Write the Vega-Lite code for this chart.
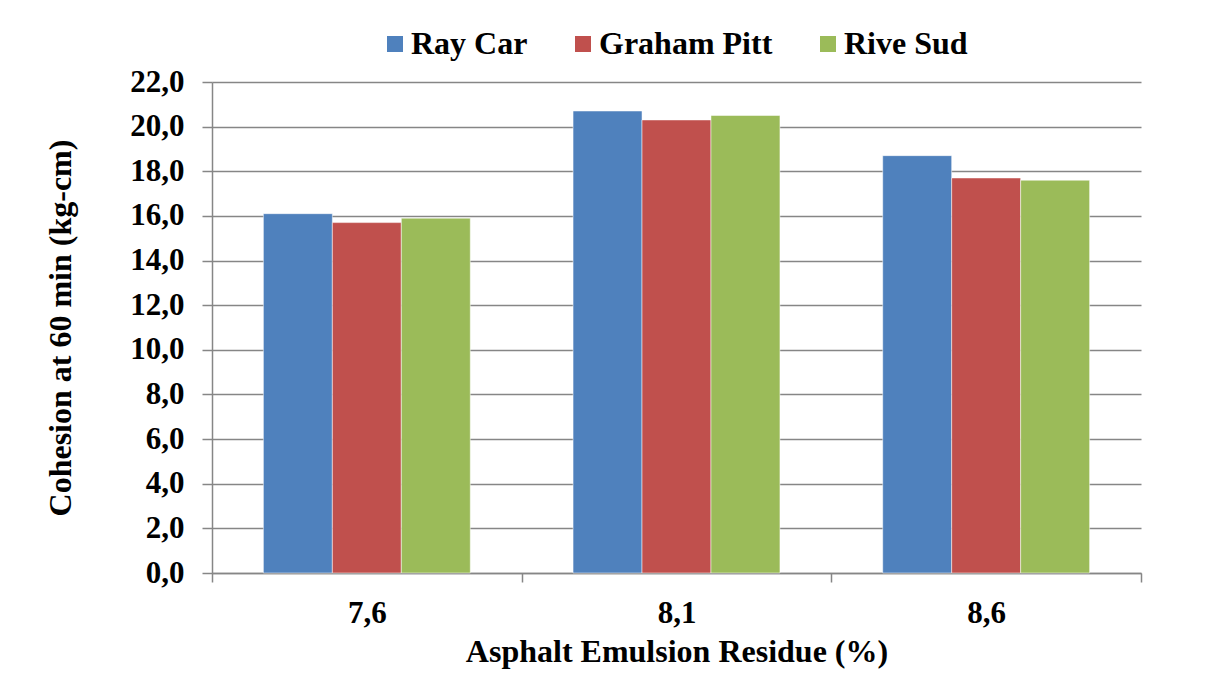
{
  "$schema": "https://vega.github.io/schema/vega-lite/v6.json",
  "width": 929,
  "height": 491,
  "autosize": {"type": "none"},
  "padding": {"left": 212, "top": 82, "right": 82, "bottom": 108},
  "background": "white",
  "data": {
    "values": [
      {"residue": "7,6", "series": "Ray Car", "cohesion": 16.1},
      {"residue": "7,6", "series": "Graham Pitt", "cohesion": 15.7},
      {"residue": "7,6", "series": "Rive Sud", "cohesion": 15.9},
      {"residue": "8,1", "series": "Ray Car", "cohesion": 20.7},
      {"residue": "8,1", "series": "Graham Pitt", "cohesion": 20.3},
      {"residue": "8,1", "series": "Rive Sud", "cohesion": 20.5},
      {"residue": "8,6", "series": "Ray Car", "cohesion": 18.7},
      {"residue": "8,6", "series": "Graham Pitt", "cohesion": 17.7},
      {"residue": "8,6", "series": "Rive Sud", "cohesion": 17.6}
    ]
  },
  "mark": {"type": "bar", "stroke": "#ffffff", "strokeOpacity": 0.5, "strokeWidth": 1},
  "encoding": {
    "x": {
      "field": "residue",
      "type": "nominal",
      "sort": ["7,6", "8,1", "8,6"],
      "scale": {"paddingInner": 0, "paddingOuter": 0},
      "axis": {
        "title": "Asphalt Emulsion Residue (%)",
        "labelAngle": 0,
        "tickBand": "extent",
        "tickSize": 9,
        "labelPadding": 16,
        "titlePadding": 8,
        "domainColor": "#868686",
        "tickColor": "#868686",
        "domainWidth": 1.5,
        "tickWidth": 1.5
      }
    },
    "xOffset": {
      "field": "series",
      "type": "nominal",
      "sort": ["Ray Car", "Graham Pitt", "Rive Sud"],
      "scale": {"paddingInner": 0, "paddingOuter": 0.745}
    },
    "y": {
      "field": "cohesion",
      "type": "quantitative",
      "scale": {"domain": [0, 22], "nice": false},
      "axis": {
        "title": "Cohesion at 60 min (kg-cm)",
        "values": [0, 2, 4, 6, 8, 10, 12, 14, 16, 18, 20, 22],
        "labelExpr": "replace(format(datum.value, '.1f'), '.', ',')",
        "tickSize": 10,
        "labelPadding": 18,
        "titlePadding": 52,
        "grid": true,
        "gridColor": "#868686",
        "gridWidth": 1.3,
        "domainColor": "#868686",
        "tickColor": "#868686",
        "domainWidth": 1.5,
        "tickWidth": 1.5
      }
    },
    "color": {
      "field": "series",
      "type": "nominal",
      "scale": {
        "domain": ["Ray Car", "Graham Pitt", "Rive Sud"],
        "range": ["#4F81BD", "#C0504D", "#9BBB59"]
      },
      "legend": {
        "title": null,
        "orient": "none",
        "direction": "horizontal",
        "legendX": 167,
        "legendY": -54,
        "symbolType": "square",
        "symbolSize": 256,
        "symbolStrokeWidth": 0,
        "labelOffset": 0,
        "labelLimit": 400,
        "columnPadding": 39,
        "labelFontSize": 32,
        "labelFont": "Liberation Serif",
        "labelFontWeight": "bold",
        "labelColor": "#000000"
      }
    }
  },
  "config": {
    "font": "Liberation Serif",
    "view": {"stroke": null},
    "legend": {
      "labelFont": "Liberation Serif",
      "labelFontWeight": "bold",
      "labelFontSize": 32
    },
    "axis": {
      "labelFont": "Liberation Serif",
      "labelFontSize": 31,
      "labelFontWeight": "bold",
      "labelColor": "#000000",
      "titleFont": "Liberation Serif",
      "titleFontSize": 32,
      "titleFontWeight": "bold",
      "titleColor": "#000000"
    }
  }
}
